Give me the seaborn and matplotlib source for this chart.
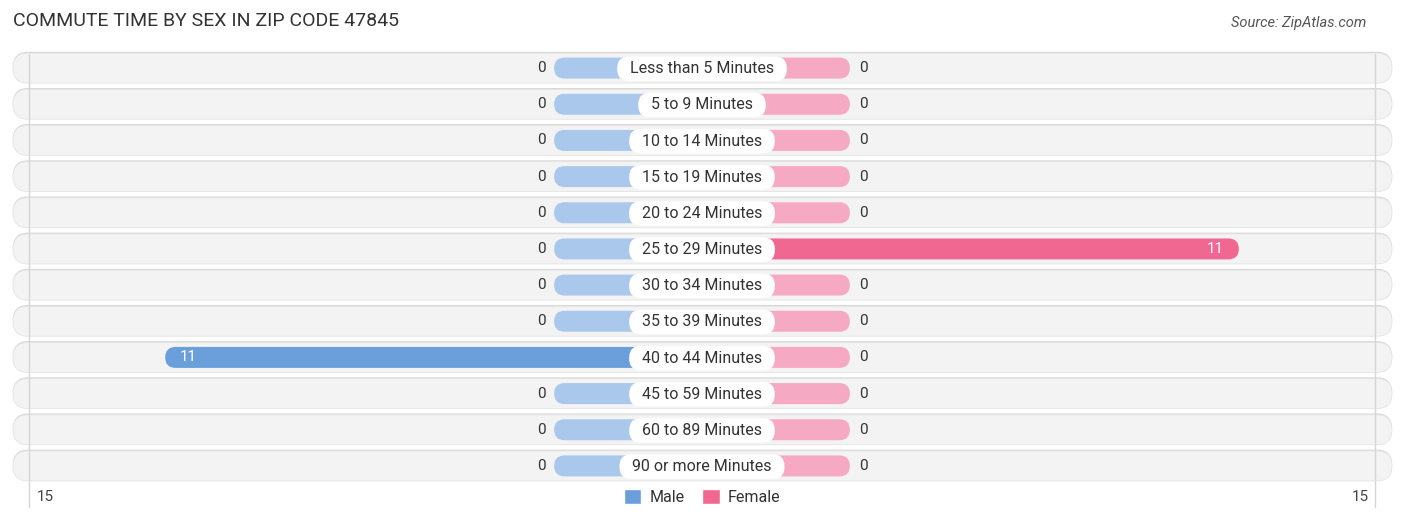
import numpy as np
import pandas as pd
import matplotlib.pyplot as plt
import seaborn as sns
from matplotlib.patches import FancyBboxPatch, Patch

# -----------------------------
# Data
# -----------------------------
categories = [
    "Less than 5 Minutes", "5 to 9 Minutes", "10 to 14 Minutes", "15 to 19 Minutes",
    "20 to 24 Minutes", "25 to 29 Minutes", "30 to 34 Minutes", "35 to 39 Minutes",
    "40 to 44 Minutes", "45 to 59 Minutes", "60 to 89 Minutes", "90 or more Minutes",
]
male = [0, 0, 0, 0, 0, 0, 0, 0, 11, 0, 0, 0]
female = [0, 0, 0, 0, 0, 11, 0, 0, 0, 0, 0, 0]
axis_label = "15"

# -----------------------------
# Layout / style
# -----------------------------
W, H, DPI = 1406, 522, 100
PX_X = 48.8      # pixels per value unit
PX_Y = 36.18     # pixels per row
CENTER_PX = 702
STUB = 3.03      # drawn length of a zero bar
BAR_H = 0.58
PILL_H = 0.83
EDGE = 13.8      # faint guide lines

MALE_DARK, MALE_LIGHT = "#6a9fdc", "#a9c8ec"
FEMALE_DARK, FEMALE_LIGHT = "#f06892", "#f6a9c3"

sns.set_theme(style="white")
plt.rcParams["font.family"] = ["Roboto", "DejaVu Sans"]

fig = plt.figure(figsize=(W / DPI, H / DPI), dpi=DPI)
left_px, right_px, top_px, bottom_px = 12, 1393, 50, 484
ax = fig.add_axes([left_px / W, 1 - bottom_px / H,
                   (right_px - left_px) / W, (bottom_px - top_px) / H])

male_arr = np.array(male, dtype=float)
female_arr = np.array(female, dtype=float)
df = pd.DataFrame({
    "category": categories * 2,
    "sex": ["Male"] * len(categories) + ["Female"] * len(categories),
    "value": np.concatenate([male_arr, female_arr]),
})
df["shown"] = np.where(df["value"] == 0, STUB, df["value"])
df.loc[df["sex"] == "Male", "shown"] *= -1

sns.barplot(data=df, y="category", x="shown", hue="sex", hue_order=["Male", "Female"],
            order=categories, dodge=False, width=BAR_H, orient="h",
            palette={"Male": MALE_DARK, "Female": FEMALE_DARK}, legend=False, ax=ax)

aspect = PX_X / PX_Y
xlim = ((left_px - CENTER_PX) / PX_X, (right_px - CENTER_PX) / PX_X)

# row background pills (shadow sits on the top edge)
for i in range(len(categories)):
    r = (PILL_H / 2) / aspect
    ax.add_patch(FancyBboxPatch((xlim[0] + 0.02, i - PILL_H / 2 - 0.035), xlim[1] - xlim[0] - 0.04, PILL_H,
                                boxstyle=f"round,pad=0,rounding_size={r}", mutation_aspect=aspect,
                                fc="#d6d6d6", ec="none", zorder=0))
    ax.add_patch(FancyBboxPatch((xlim[0] + 0.02, i - PILL_H / 2), xlim[1] - xlim[0] - 0.04, PILL_H,
                                boxstyle=f"round,pad=0,rounding_size={r}", mutation_aspect=aspect,
                                fc="#f3f3f3", ec="#e4e4e4", lw=0.6, zorder=0.5))

# faint guide lines at the axis ends
for xv in (-EDGE, EDGE):
    ax.plot([xv, xv], [-0.4, 12.14], color="#d6d6d6", lw=1, zorder=1, clip_on=False)

# replace seaborn rectangles by rounded bars
for p in list(ax.patches):
    if isinstance(p, FancyBboxPatch):
        continue
    x, y, w, h = p.get_x(), p.get_y(), p.get_width(), p.get_height()
    if abs(w) < 1e-9:
        p.remove()
        continue
    row = int(round(y + h / 2))
    is_male = (x + w) < 0
    if is_male:
        color = MALE_DARK if male[row] > 0 else MALE_LIGHT
    else:
        color = FEMALE_DARK if female[row] > 0 else FEMALE_LIGHT
    x0 = min(x, x + w)
    p.remove()
    ax.add_patch(FancyBboxPatch((x0, y), abs(w), h,
                                boxstyle=f"round,pad=0,rounding_size={(h / 2) / aspect}",
                                mutation_aspect=aspect, fc=color, ec="none", zorder=2))

# value labels
for i, (m, f) in enumerate(zip(male, female)):
    if m == 0:
        ax.text(-STUB - 0.18, i, "0", ha="right", va="center", fontsize=11, color="#333333", zorder=4)
    else:
        ax.text(-m + 0.3, i, str(m), ha="left", va="center", fontsize=11, color="white", zorder=4)
    if f == 0:
        ax.text(STUB + 0.18, i, "0", ha="left", va="center", fontsize=11, color="#333333", zorder=4)
    else:
        ax.text(f - 0.3, i, str(f), ha="right", va="center", fontsize=11, color="white", zorder=4)

# category labels in white pills
for i, cat in enumerate(categories):
    ax.text(0, i + 0.02, f"  {cat}  ", ha="center", va="center", fontsize=11.5, color="#333333",
            zorder=5, bbox=dict(boxstyle="round,pad=0.3,rounding_size=0.75", fc="white", ec="none"))

ax.set_xlim(*xlim)
ax.set_ylim(len(categories) - 0.5, -0.5)
ax.axis("off")

# axis end labels
y_lab = len(categories) - 0.5 + 13 / PX_Y
ax.text((37 - CENTER_PX) / PX_X, y_lab, axis_label, ha="left", va="center", fontsize=11,
        color="#444444", clip_on=False)
ax.text((1369 - CENTER_PX) / PX_X, y_lab, axis_label, ha="right", va="center", fontsize=11,
        color="#444444", clip_on=False)

# legend
handles = [Patch(facecolor=MALE_DARK, label="Male"), Patch(facecolor=FEMALE_DARK, label="Female")]
fig.legend(handles=handles, loc="center", bbox_to_anchor=(CENTER_PX / W, 1 - 497 / H), ncol=2,
           frameon=False, fontsize=11.5, handlelength=1.1, handleheight=1.1,
           columnspacing=1.1, handletextpad=0.5, labelcolor="#333333")

# title and source
fig.text(13 / W, 1 - 21 / H, "COMMUTE TIME BY SEX IN ZIP CODE 47845", ha="left", va="center",
         fontsize=14, color="#333333")
fig.text(1366 / W, 1 - 23 / H, "Source: ZipAtlas.com", ha="right", va="center",
         fontsize=10.5, style="italic", color="#555555")

fig.savefig("out.png", dpi=DPI, facecolor="white")
